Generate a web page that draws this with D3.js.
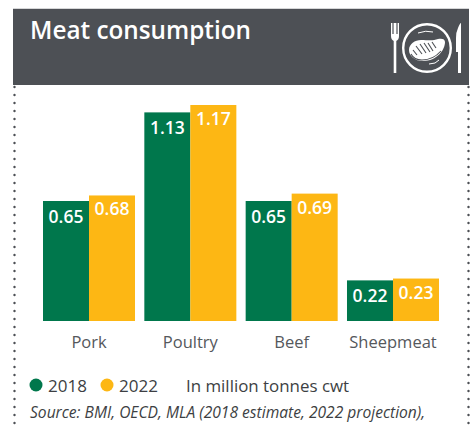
<!DOCTYPE html>
<html>
<head>
<meta charset="utf-8">
<script src="https://cdn.jsdelivr.net/npm/d3@7"></script>
<style>
html,body{margin:0;padding:0;background:#fff}
svg{display:block}
text{font-family:"Open Sans",Lato,sans-serif}
</style>
</head>
<body>
<svg id="chart" width="475" height="426"></svg>
<script>
const categories = ["Pork", "Poultry", "Beef", "Sheepmeat"];
const years = ["2018", "2022"];
const values2018 = [0.65, 1.13, 0.65, 0.22];
const values2022 = [0.68, 1.17, 0.69, 0.23];
const yearColors = ["#00774c", "#fdb714"];
const titleText = "Meat consumption";
const unitText = "In million tonnes cwt";
const sourceText = "Source: BMI, OECD, MLA (2018 estimate, 2022 projection),";

const ink = "#4d5055";
const svg = d3.select("#chart");

// Header band
svg.append("rect").attr("x", 13).attr("y", 8).attr("width", 456).attr("height", 1).attr("fill", "#d6d7d8");
svg.append("rect").attr("x", 13).attr("y", 9).attr("width", 456).attr("height", 76).attr("fill", ink);
svg.append("text").attr("x", 30).attr("y", 39).attr("fill", "#fff")
  .attr("font-size", 24.3).attr("font-weight", 600).text(titleText);

// Fork, plate with steak, knife
const icon = svg.append("g").attr("fill", "none").attr("stroke", "#fff");
icon.append("path").attr("stroke-width", 2.6)
  .attr("d", "M395 40V73");
icon.append("path").attr("fill", "#fff").attr("stroke", "none")
  .attr("d", "M391 23h1.4v11h1.2V23h2.8v11h1.2V23H399v13q0 4-3 5h-2q-3-1-3-5Z");
icon.append("circle").attr("cx", 427).attr("cy", 48).attr("r", 23.8).attr("stroke-width", 2.4);
icon.append("path").attr("fill", "#fff").attr("stroke", "none")
  .attr("d", "M409 50c0-6 6-10 12-10 7 0 12 1 17-1 4-1 7 0 7 3 0 8-8 19-22 19-8 0-14-5-14-11Z");
icon.append("path").attr("stroke", ink).attr("stroke-width", 1.1)
  .attr("d", "M413 50l4 5M416 46l6 8M420 44l6 9M424 43l6 9M428 43l5 8M432 42l4 6M411 54q3 6 11 6 11 0 19-9");
icon.append("path").attr("stroke-width", 1).attr("d", "M418 33q8-3 15-1M429 64q7 0 10-4");
icon.append("path").attr("fill", "#fff").attr("stroke", "none")
  .attr("d", "M458 28q2-5 3-5V73h-3V52h-2V38q0-6 2-10Z");

// Dotted side rules
[14.5, 468.5].forEach(x => {
  svg.append("line").attr("x1", x).attr("x2", x).attr("y1", 87).attr("y2", 426)
    .attr("stroke", ink).attr("stroke-width", 2.4)
    .attr("stroke-linecap", "round").attr("stroke-dasharray", "0 8");
});

// Scales
const baseline = 321;
const x0 = d3.scaleBand().domain(categories).range([43, 439]).paddingInner(0.092);
const x1 = d3.scaleBand().domain(years).range([0, x0.bandwidth()]);
const y = d3.scaleLinear().domain([0, 1.17]).range([baseline, 105]);

// Bars and their value labels
const series = [values2018, values2022];
const labelDrop = [22, 20];
years.forEach((yr, s) => {
  const g = svg.append("g");
  const rows = categories.map((c, i) => ({ c, v: series[s][i] }));
  g.selectAll("rect").data(rows).join("rect")
    .attr("x", d => x0(d.c) + x1(yr))
    .attr("y", d => y(d.v))
    .attr("width", x1.bandwidth())
    .attr("height", d => baseline - y(d.v))
    .attr("fill", yearColors[s]);
  g.selectAll("text").data(rows).join("text")
    .attr("x", d => x0(d.c) + x1(yr) + x1.bandwidth() / 2)
    .attr("y", d => y(d.v) + labelDrop[s])
    .attr("text-anchor", "middle")
    .attr("fill", "#fff")
    .attr("font-size", 17.5)
    .attr("font-weight", 600)
    .text(d => d.v.toFixed(2));
});

// Category axis
const axis = svg.append("g").attr("transform", `translate(0,${baseline})`)
  .call(d3.axisBottom(x0).tickSize(0).tickPadding(15));
axis.select(".domain").remove();
axis.selectAll("text")
  .attr("fill", "#55585c")
  .attr("font-size", 16.5)
  .attr("font-family", '"Open Sans",Lato,sans-serif');

// Legend, unit note and source line
const legendX = [36, 107];
years.forEach((yr, s) => {
  svg.append("circle").attr("cx", legendX[s]).attr("cy", 385).attr("r", 6.5).attr("fill", yearColors[s]);
  svg.append("text").attr("x", legendX[s] + 12).attr("y", 392).attr("fill", "#3d3f43")
    .attr("font-size", 17).text(yr);
});
svg.append("text").attr("x", 186).attr("y", 392).attr("fill", "#3d3f43")
  .attr("font-size", 16.9).text(unitText);
svg.append("text").attr("x", 30).attr("y", 418).attr("fill", "#3d3f43")
  .attr("font-size", 15.6).attr("font-style", "italic").text(sourceText);
</script>
</body>
</html>
